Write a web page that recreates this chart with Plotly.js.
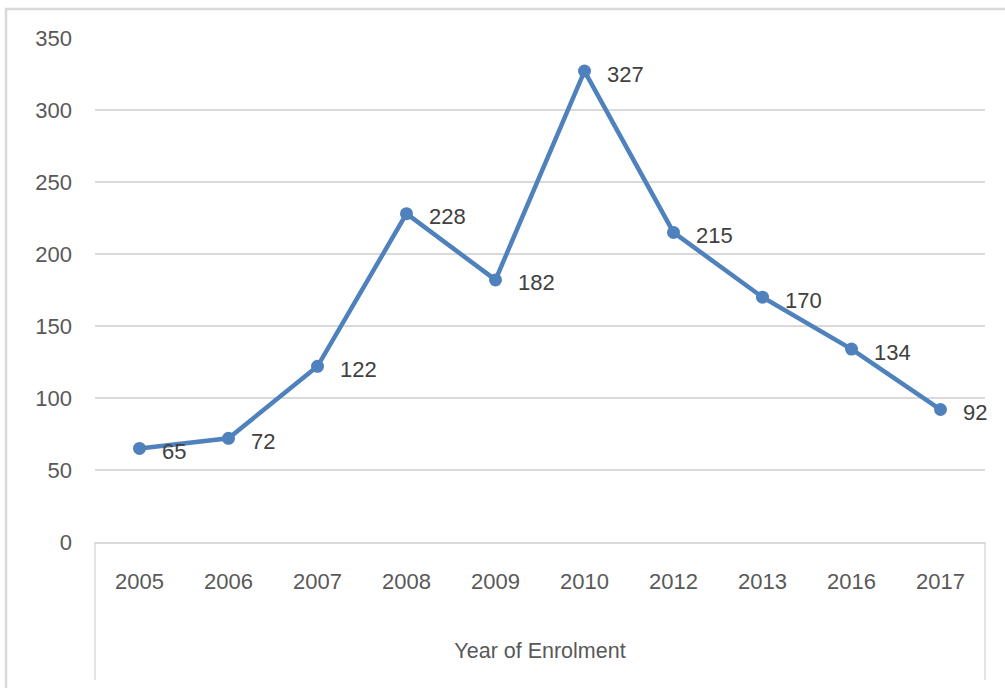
<!DOCTYPE html>
<html>
<head>
<meta charset="utf-8">
<script src="https://cdn.plot.ly/plotly-3.0.1.min.js"></script>
<style>html,body{margin:0;padding:0;background:#fff;}#chart{width:1005px;height:688px;}</style>
</head>
<body>
<div id="chart"></div>
<script>
var years = ["2005","2006","2007","2008","2009","2010","2012","2013","2016","2017"];
var enrolments = [65, 72, 122, 228, 182, 327, 215, 170, 134, 92];
var yTicks = [0, 50, 100, 150, 200, 250, 300, 350];
var xTitle = "Year of Enrolment";

var gray = "#d9d9d9";
var textColor = "#595959";
var fontFam = "Liberation Sans, Arial, sans-serif";

var trace = {
  x: years,
  y: enrolments,
  type: "scatter",
  mode: "lines+markers",
  line: {color: "#4f81bd", width: 4.5},
  marker: {color: "#4f81bd", size: 13},
  cliponaxis: false,
  hoverinfo: "skip"
};

var labelAnns = years.map(function (yr, i) {
  return {
    x: i, y: enrolments[i], xref: "x", yref: "y",
    text: String(enrolments[i]),
    showarrow: false,
    xanchor: "left", yanchor: "middle",
    xshift: 20, yshift: -3,
    font: {family: fontFam, size: 22, color: "#404040"}
  };
});

var layout = {
  width: 1005,
  height: 688,
  margin: {l: 95, r: 20, t: 38, b: 146, pad: 0},
  paper_bgcolor: "#fff",
  plot_bgcolor: "#fff",
  showlegend: false,
  font: {family: fontFam, color: textColor, size: 22},
  xaxis: {
    type: "category",
    range: [-0.5, 9.5],
    showgrid: false,
    zeroline: false,
    showline: true,
    linecolor: gray,
    linewidth: 1.5,
    ticks: "",
    ticklabelstandoff: 19,
    tickfont: {family: fontFam, size: 22, color: textColor},
    title: {text: xTitle, font: {family: fontFam, size: 21.5, color: textColor}, standoff: 50},
    automargin: false,
    fixedrange: true
  },
  yaxis: {
    range: [0, 350],
    tickvals: yTicks,
    showgrid: true,
    gridcolor: gray,
    gridwidth: 1.5,
    zeroline: false,
    showline: false,
    ticks: "",
    ticklabelstandoff: 22,
    tickfont: {family: fontFam, size: 22, color: textColor},
    automargin: false,
    fixedrange: true
  },
  annotations: labelAnns,
  shapes: [
    {type: "rect", xref: "paper", yref: "paper", x0: (6-95)/890, x1: (1012-95)/890, y0: (542-700)/504, y1: (542-9)/504, line: {color: gray, width: 2.5}, fillcolor: "rgba(0,0,0,0)", layer: "below"},
    {type: "line", xref: "paper", yref: "paper", x0: 0, x1: 0, y0: 0, y1: (542-680)/504, line: {color: gray, width: 1.5}},
    {type: "line", xref: "paper", yref: "paper", x0: 1, x1: 1, y0: 0, y1: (542-680)/504, line: {color: gray, width: 1.5}}
  ]
};

Plotly.newPlot("chart", [trace], layout, {displayModeBar: false, staticPlot: true});
</script>
</body>
</html>
